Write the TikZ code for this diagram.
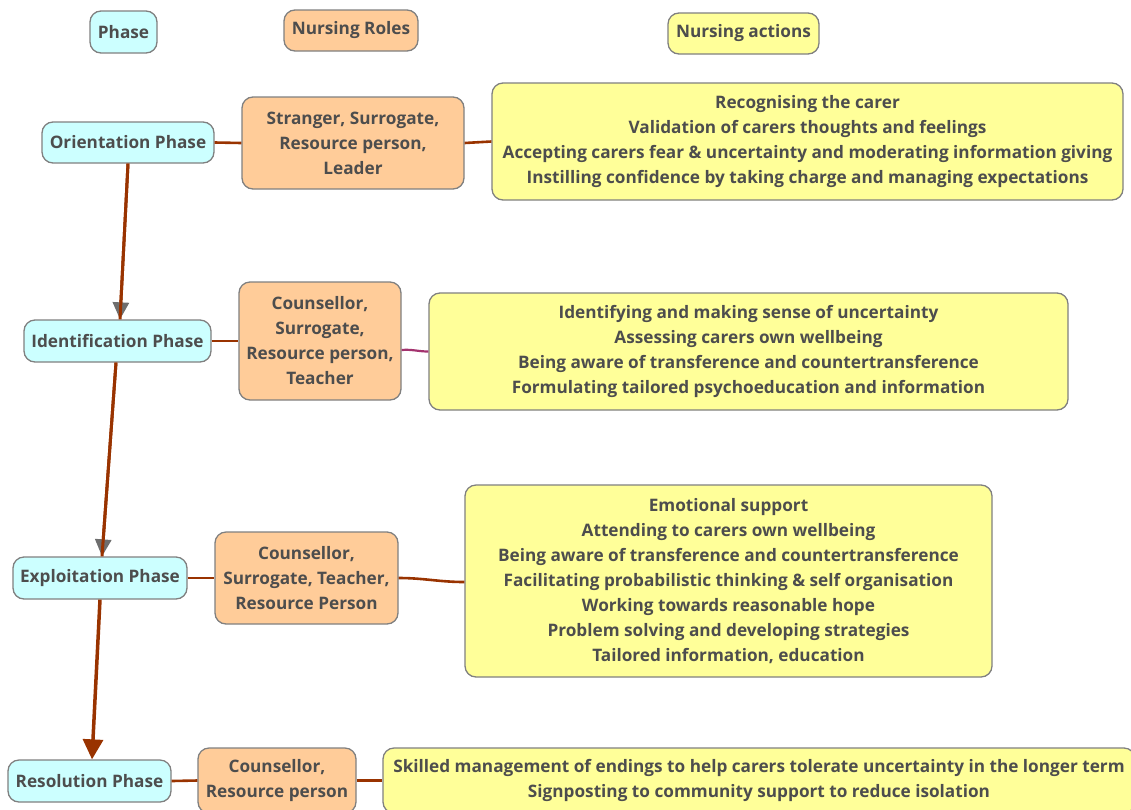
\documentclass[tikz,border=0pt]{standalone}
\usepackage{fontspec}
\setmainfont{Open Sans}
\usetikzlibrary{arrows.meta}
\definecolor{phasefill}{HTML}{CCFFFF}
\definecolor{rolefill}{HTML}{FFCC99}
\definecolor{actfill}{HTML}{FFFF99}
\definecolor{boxline}{HTML}{808080}
\definecolor{txt}{HTML}{4D4D4D}
\definecolor{brown}{HTML}{993300}
\definecolor{plum}{HTML}{A3336E}
\definecolor{tipgray}{HTML}{6E6E6E}
\tikzset{
  box/.style={draw=boxline, line width=1.3pt, rounded corners=11pt, inner sep=0pt,
    align=center, text=txt, font=\fontsize{17.2}{25}\selectfont\bfseries},
  phasebox/.style={box, fill=phasefill},
  rolebox/.style={box, fill=rolefill},
  actbox/.style={box, fill=actfill},
  link/.style={draw=brown, line width=2.6pt},
  flow/.style={draw=brown, line width=3pt},
  graytip/.style={draw=brown, line width=3pt,
    -{Triangle[width=16pt,length=17pt,fill=tipgray,color=tipgray]}},
}
\begin{document}
\begin{tikzpicture}[x=1pt,y=-1pt]
\useasboundingbox (0,0) rectangle (1131,809);
\clip (0,0) rectangle (1131,809);

% column headings
\node[phasebox, minimum width=67pt, minimum height=42pt] (hphase) at (123.5,32) {Phase};
\node[rolebox, minimum width=134pt, minimum height=41pt] (hrole) at (351,30.5) {Nursing Roles};
\node[actbox, minimum width=151pt, minimum height=41pt] (hact) at (743.5,33.5) {Nursing actions};

% phases
\node[phasebox, minimum width=172pt, minimum height=41pt] (p1) at (128,142.5) {Orientation Phase};
\node[phasebox, minimum width=187pt, minimum height=42pt] (p2) at (117.5,341) {Identification Phase};
\node[phasebox, minimum width=174pt, minimum height=42pt] (p3) at (100,578) {Exploitation Phase};
\node[phasebox, minimum width=163pt, minimum height=42pt] (p4) at (89.5,781) {Resolution Phase};

% nursing roles
\node[rolebox, minimum width=222pt, minimum height=92pt] (r1) at (353,143)
  {Stranger, Surrogate,\\Resource person,\\Leader};
\node[rolebox, minimum width=162pt, minimum height=118pt] (r2) at (320,341)
  {Counsellor,\\Surrogate,\\Resource person,\\Teacher};
\node[rolebox, minimum width=183pt, minimum height=92pt] (r3) at (306.5,578)
  {Counsellor,\\Surrogate, Teacher,\\Resource Person};
\node[rolebox, minimum width=158pt, minimum height=65pt] (r4) at (277,780.5)
  {Counsellor,\\Resource person};

% nursing actions
\node[actbox, minimum width=631pt, minimum height=117pt] (a1) at (807.5,141.5)
  {Recognising the carer\\
   Validation of carers thoughts and feelings\\
   Accepting carers fear \& uncertainty and moderating information giving\\
   Instilling confidence by taking charge and managing expectations};
\node[actbox, minimum width=639pt, minimum height=117pt] (a2) at (748.5,351.5)
  {Identifying and making sense of uncertainty\\
   Assessing carers own wellbeing\\
   Being aware of transference and countertransference\\
   Formulating tailored psychoeducation and information};
\node[actbox, minimum width=527pt, minimum height=192pt] (a3) at (728.5,581)
  {Emotional support\\
   Attending to carers own wellbeing\\
   Being aware of transference and countertransference\\
   Facilitating probabilistic thinking \& self organisation\\
   Working towards reasonable hope\\
   Problem solving and developing strategies\\
   Tailored information, education};
\node[actbox, minimum width=752pt, minimum height=65pt] (a4) at (759,780.5)
  {Skilled management of endings to help carers tolerate uncertainty in the longer term\\
   Signposting to community support to reduce isolation};

% phase -> role -> action links
\draw[link] (p1.east) -- (r1.west);
\draw[link] (r1.east) -- (a1.west);
\draw[link] (p2.east) -- (r2.west);
\draw[draw=plum, line width=2.2pt] ([yshift=-9pt]r2.east) to[out=5,in=180] (a2.west);
\draw[link] (p3.east) -- (r3.west);
\draw[link] (r3.east) to[out=0,in=180] ([yshift=-1pt]a3.west);
\draw[link] (p4.east) -- (r4.west);
\draw[link] (r4.east) -- (a4.west);

% phase sequence
\draw[graytip] (p1.south) -- ([xshift=2.5pt]p2.north);
\draw[flow] (p1.south) -- ([xshift=2.5pt]p2.north);
\draw[graytip] ([xshift=-1.5pt]p2.south) -- ([xshift=2pt]p3.north);
\draw[flow] ([xshift=-1.5pt]p2.south) -- ([xshift=2pt]p3.north);
\draw[draw=brown, line width=3.5pt,
  -{Triangle[width=20pt,length=20pt,fill=brown,color=brown]}]
  (p3.south) -- ([xshift=2.5pt]p4.north);
\end{tikzpicture}
\end{document}
